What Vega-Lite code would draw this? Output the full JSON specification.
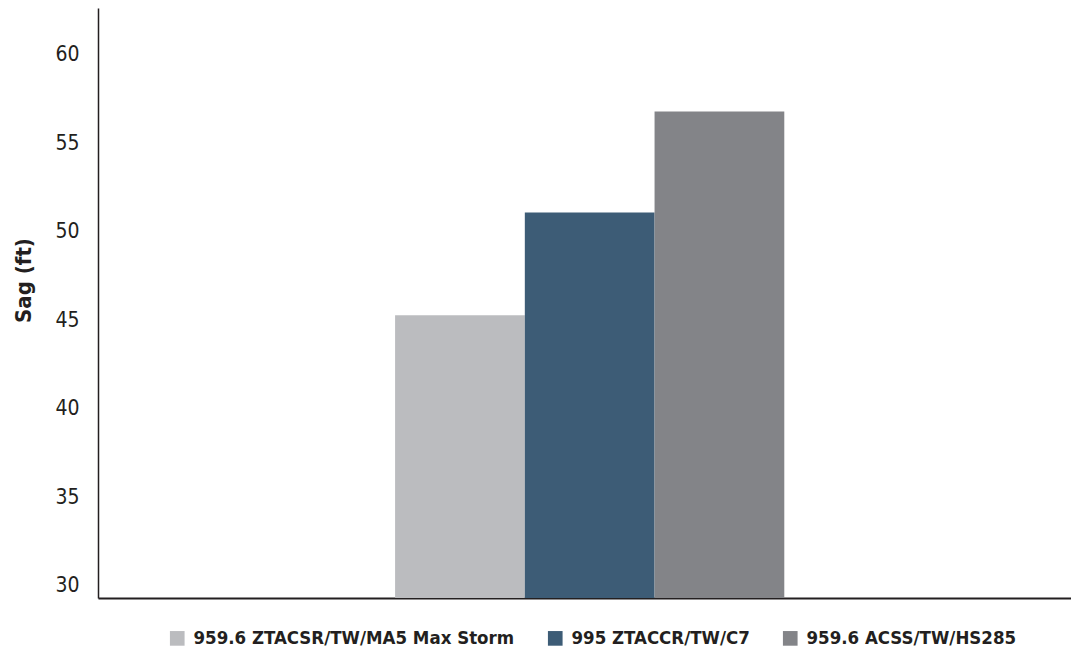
{
  "$schema": "https://vega.github.io/schema/vega-lite/v6.json",
  "autosize": "none",
  "width": 973,
  "height": 590,
  "padding": {"left": 98, "top": 8, "right": 0, "bottom": 50},
  "background": "white",
  "config": {
    "view": {"stroke": null},
    "font": "DejaVu Sans Condensed, Liberation Sans"
  },
  "data": {
    "values": [
      {"series": "959.6 ZTACSR/TW/MA5 Max Storm", "sag": 45.3},
      {"series": "995 ZTACCR/TW/C7", "sag": 51.1},
      {"series": "959.6 ACSS/TW/HS285", "sag": 56.8}
    ]
  },
  "mark": {"type": "bar", "clip": true},
  "encoding": {
    "x": {
      "field": "series",
      "type": "nominal",
      "sort": null,
      "scale": {
        "domain": ["_a", "_b", "959.6 ZTACSR/TW/MA5 Max Storm", "995 ZTACCR/TW/C7", "959.6 ACSS/TW/HS285", "_c", "_d"],
        "paddingInner": 0,
        "paddingOuter": 0.25,
        "align": 0.58
      },
      "axis": {
        "title": null,
        "labels": false,
        "ticks": false,
        "domainColor": "#231F20",
        "domainWidth": 2
      }
    },
    "y": {
      "field": "sag",
      "type": "quantitative",
      "scale": {"domain": [29.32, 62.65], "zero": false, "nice": false},
      "axis": {
        "title": "Sag (ft)",
        "values": [30, 35, 40, 45, 50, 55, 60],
        "grid": false,
        "ticks": false,
        "domainColor": "#231F20",
        "domainWidth": 1.5,
        "labelFont": "DejaVu Sans Condensed, Liberation Sans",
        "labelFontSize": 21,
        "labelColor": "#231F20",
        "labelPadding": 19,
        "titleFont": "DejaVu Sans Condensed, Liberation Sans",
        "titleFontSize": 22,
        "titleFontWeight": "bold",
        "titleColor": "#231F20",
        "titlePadding": 19,
        "titleY": 272
      }
    },
    "color": {
      "field": "series",
      "type": "nominal",
      "sort": null,
      "scale": {
        "domain": ["959.6 ZTACSR/TW/MA5 Max Storm", "995 ZTACCR/TW/C7", "959.6 ACSS/TW/HS285"],
        "range": ["#BBBCBF", "#3D5C76", "#838488"]
      },
      "legend": {
        "title": null,
        "orient": "none",
        "direction": "horizontal",
        "legendX": 70,
        "legendY": 621,
        "symbolType": "square",
        "symbolSize": 215,
        "symbolStrokeWidth": 0,
        "labelFont": "DejaVu Sans Condensed, Liberation Sans",
        "labelFontSize": 18.5,
        "labelFontWeight": "bold",
        "labelColor": "#231F20",
        "labelOffset": 7,
        "labelLimit": 0,
        "columnPadding": 31
      }
    }
  }
}
